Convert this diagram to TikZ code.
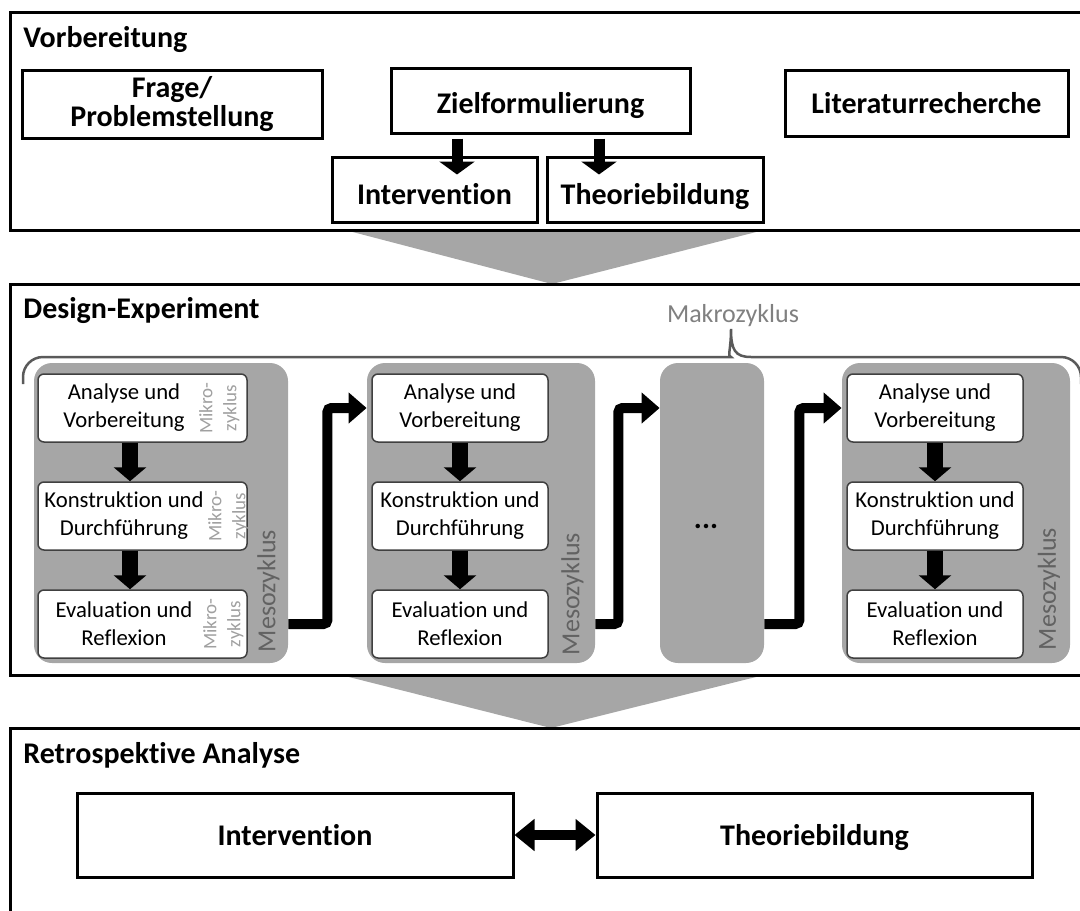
\documentclass[tikz,border=0pt]{standalone}
\usepackage{fontspec}
\setmainfont{Carlito}[Ligatures=NoCommon]
\usetikzlibrary{arrows.meta,positioning}
\definecolor{mesogray}{HTML}{A6A6A6}
\definecolor{mesotext}{HTML}{626262}
\definecolor{makrotext}{HTML}{808080}
\definecolor{bracegray}{HTML}{5A5A5A}
\definecolor{mikrotext}{HTML}{A0A0A0}
\definecolor{boxline}{HTML}{404040}
\begin{document}
\begin{tikzpicture}[x=0.5pt, y=-0.5pt, node distance={54pt},
    phase/.style = {draw, line width=1.5pt, minimum width=540pt, inner sep=0pt},
    phasetitle/.style = {anchor=base west, inner sep=0pt, font=\fontsize{15}{18}\selectfont\bfseries},
    block/.style = {draw, line width=1.5pt, align=center, inner sep=2pt, font=\fontsize{15}{14.5}\selectfont\bfseries},
    topic/.style = {block, text height=11pt, text depth=1pt},
    meso/.style = {fill=mesogray, rounded corners=9pt, minimum height=150pt, inner sep=0pt},
    stepbox/.style = {draw=boxline, fill=white, line width=0.75pt, rounded corners=3pt, minimum height=34pt, align=center, inner sep=2pt, font=\fontsize{11.35}{14}\selectfont},
    mikro/.style = {rotate=90, align=center, inner sep=0pt, text=mikrotext, font=\fontsize{9.5}{12}\selectfont},
    mesolabel/.style = {rotate=90, inner sep=0pt, text=mesotext, font=\fontsize{13}{15}\selectfont},
    makro/.style = {inner sep=0pt, text=makrotext, font=\fontsize{13}{15}\selectfont},
    brace/.style = {draw=bracegray, line width=1.25pt},
    funnel/.style = {fill=mesogray},
    push/.style = {line width=5.5pt, -{Triangle[width=17.5pt,length=6.5pt]}},
    fall/.style = {line width=8pt, -{Triangle[width=16pt,length=7pt]}},
    flow/.style = {line width=5pt, rounded corners=2pt, -{Triangle[width=15pt,length=9pt]}},
    link/.style = {line width=5pt, {Triangle[width=15.5pt,length=10pt]}-{Triangle[width=15.5pt,length=10pt]}}]
    \useasboundingbox (0,0) rectangle (1080,910);
    \fill[funnel] (345,230) -- (764,230) -- (552,284) -- cycle;
    \fill[funnel] (341,675) -- (764,675) -- (551,728) -- cycle;
    \node[phase, minimum height=109pt] (vor) at (550,121) {};
    \node[phase, minimum height=195.5pt] (des) at (550,479.5) {};
    \node[phase, minimum height=100pt] (ret) at (550,828) {};
    \node[phasetitle] (t1) at (23,47) {Vorbereitung};
    \node[phasetitle] (t2) at (23,318) {Design-Experiment};
    \node[phasetitle] (t3) at (23,763) {Retrospektive Analyse};
    \node[block, minimum width=150pt, minimum height=34pt] (frage) at (172,104) {Frage/\\Problemstellung};
    \node[topic, minimum width=149.5pt, minimum height=32.5pt, text height=13.5pt] (ziel) at (540.5,100.5) {Zielformulierung};
    \node[topic, minimum width=141.5pt, minimum height=33pt] (lit) at (926.5,103) {Literaturrecherche};
    \node[topic, minimum width=102.5pt, minimum height=32.5pt, text height=16pt] (int1) at (434.5,189.5) {Intervention};
    \node[topic, minimum width=108pt, minimum height=32.5pt, text height=16pt] (theo1) at (655,189.5) {Theoriebildung};
    \draw[push] ([xshift=-41.75pt,yshift=-2pt]ziel.south) to ([xshift=-41.75pt,yshift=-20pt]ziel.south);
    \draw[push] ([xshift=29.25pt,yshift=-2pt]ziel.south) to ([xshift=29.25pt,yshift=-20pt]ziel.south);
    \node[makro] (mak) at (733,316) {Makrozyklus};
    \draw[brace] (23,384) [rounded corners=10pt] |- (711,357) [sharp corners] .. controls (727,357) and (731,350) .. (731,329) .. controls (731,350) and (735,357) .. (751,357) [rounded corners=10pt] -| (1081,384);
    \node[meso, minimum width=127pt] (m1) at (161,513) {};
    \node[meso, minimum width=114pt] (m2) at (481,513) {};
    \node[meso, minimum width=52pt] (m3) at (712,513) {};
    \node[meso, minimum width=114pt] (m4) at (956,513) {};
    \node[stepbox, minimum width=104.5pt] (a1) at (142.5,408) {Analyse und\hspace*{18.5pt}\\Vorbereitung\hspace*{18.5pt}};
    \node[stepbox, minimum width=104.5pt] (k1) [below of=a1] {Konstruktion und\hspace*{18.5pt}\\Durchführung\hspace*{18.5pt}};
    \node[stepbox, minimum width=104.5pt] (e1) [below of=k1] {Evaluation und\hspace*{18.5pt}\\Reflexion\hspace*{18.5pt}};
    \node[mikro] (mk1) at ([xshift=-14.25pt]a1.east) {Mikro-\\zyklus};
    \node[mikro] (mk2) at ([xshift=-9.75pt]k1.east) {Mikro-\\zyklus};
    \node[mikro] (mk3) at ([xshift=-12.25pt]e1.east) {Mikro-\\zyklus};
    \node[stepbox, minimum width=88pt] (a2) at (460,408) {Analyse und\\Vorbereitung};
    \node[stepbox, minimum width=88pt] (k2) [below of=a2] {Konstruktion und\\Durchführung};
    \node[stepbox, minimum width=88pt] (e2) [below of=k2] {Evaluation und\\Reflexion};
    \node[stepbox, minimum width=88pt] (a4) at (935,408) {Analyse und\\Vorbereitung};
    \node[stepbox, minimum width=88pt] (k4) [below of=a4] {Konstruktion und\\Durchführung};
    \node[stepbox, minimum width=88pt] (e4) [below of=k4] {Evaluation und\\Reflexion};
    \node[mesolabel] (lm1) at ([xshift=-10pt,yshift=-39pt]m1.east) {Mesozyklus};
    \node[mesolabel] (lm2) at ([xshift=-11.5pt,yshift=-40.5pt]m2.east) {Mesozyklus};
    \node[mesolabel] (lm4) at ([xshift=-10.7pt,yshift=-38pt]m4.east) {Mesozyklus};
    \node[font=\fontsize{15}{18}\selectfont\bfseries] (dots) at (706,526) {...};
    \draw[fall] ([xshift=-6.25pt]a1.south) to ([xshift=-6.25pt]k1.north);
    \draw[fall] ([xshift=-6.25pt]k1.south) to ([xshift=-6.25pt]e1.north);
    \draw[fall] (a2) to (k2);
    \draw[fall] (k2) to (e2);
    \draw[fall] (a4) to (k4);
    \draw[fall] (k4) to (e4);
    \draw[flow] (m1.east |- e1) -- ++(39,0) |- (m2.west |- a2);
    \draw[flow] (m2.east |- e2) -- ++(23,0) |- (m3.west |- a2);
    \draw[flow] (m3.east |- e2) -- ++(35,0) |- (m4.west |- a4);
    \node[topic, minimum width=218pt, minimum height=42pt] (int2) at (295,835) {Intervention};
    \node[topic, minimum width=217.5pt, minimum height=42pt] (theo2) at (814.5,835) {Theoriebildung};
    \draw[link] (int2) to (theo2);
\end{tikzpicture}
\end{document}
